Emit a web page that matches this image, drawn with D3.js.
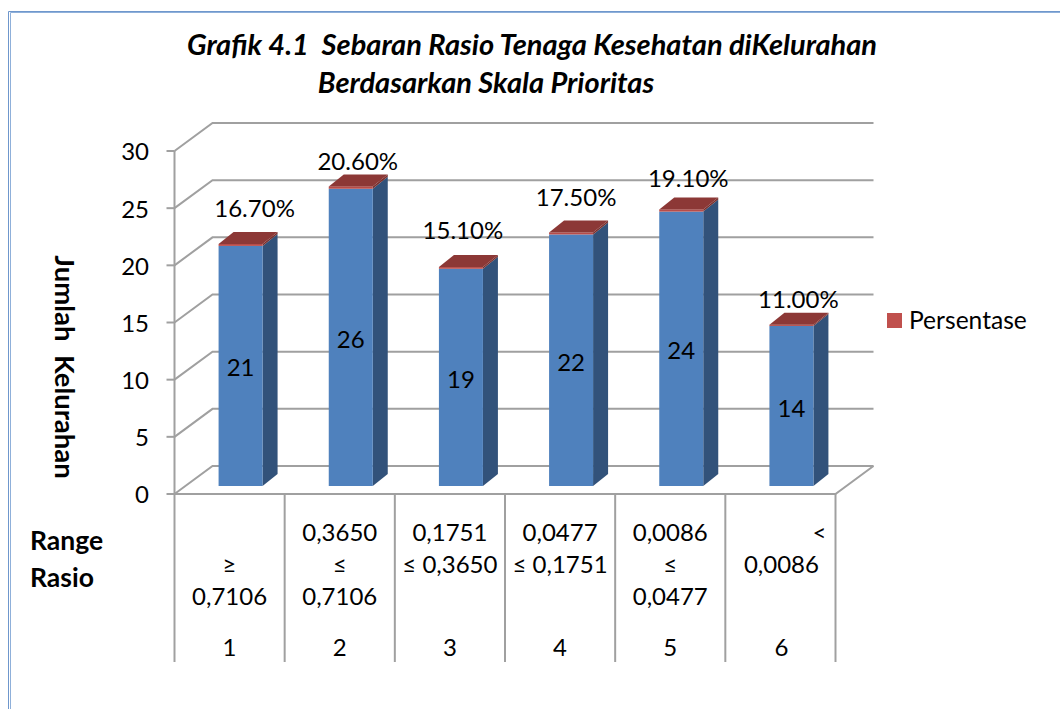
<!DOCTYPE html>
<html><head><meta charset="utf-8">
<script src="https://cdnjs.cloudflare.com/ajax/libs/d3/7.8.5/d3.min.js"></script>
<style>html,body{margin:0;padding:0;background:#fff}svg{display:block}text{font-family:Lato,Carlito,sans-serif;fill:#000}</style>
</head><body><div id="c"></div>
<script>
const categories = ["1","2","3","4","5","6"];
const rangeLabels = [
  ["", "≥", "0,7106"],
  ["0,3650", "≤", "0,7106"],
  ["0,1751", "≤ 0,3650", ""],
  ["0,0477", "≤ 0,1751", ""],
  ["0,0086", "≤", "0,0477"],
  ["<", "0,0086", ""]
];
const jumlah = [21, 26, 19, 22, 24, 14];
const persentase = [0.167, 0.206, 0.151, 0.175, 0.191, 0.11];
const yTicks = [0, 5, 10, 15, 20, 25, 30];
const titleLines = ["Grafik 4.1  Sebaran Rasio Tenaga Kesehatan diKelurahan", "Berdasarkan Skala Prioritas"];
const legendLabel = "Persentase";
const yTitle = "Jumlah  Kelurahan";
const xTitle = ["Range", "Rasio"];

const W = 1060, H = 709, FS = 24;
const svg = d3.select("#c").append("svg").attr("width", W).attr("height", H);

// page frame
svg.append("path").attr("d", "M8.5 709V11.5H1060").attr("fill","none").attr("stroke","#6f97cc").attr("stroke-width",1);
svg.append("path").attr("d", "M10.5 709V12.5H1060").attr("fill","none").attr("stroke","#8fb0da").attr("stroke-width",1);

const plotL = 174.5, plotR = 835.5, y0 = 494, y30 = 151, dx3 = 38, dy3 = 28;
const x = d3.scaleBand().domain(categories).range([plotL, plotR]);
const y = d3.scaleLinear().domain([0, 30]).range([y0, y30]);
const barDx = 15, barDy = 12, barW = 44, wallShift = 11, barBase = y0 - 8;
const grid = "#a0a0a0";

// walls
const g = svg.append("g").attr("fill","none").attr("stroke",grid).attr("stroke-width",2);
yTicks.forEach(t => {
  const yy = y(t);
  g.append("path").attr("d", `M${plotL} ${yy}L${plotL+dx3} ${yy-dy3}H${plotR+dx3}`);
  g.append("path").attr("d", `M${plotL-8} ${yy}H${plotL}`);
});
g.append("path").attr("d", `M${plotL} ${y30}V${y0}`);
g.append("path").attr("d", `M${plotL} ${y0}H${plotR}L${plotR+dx3} ${y0-dy3}`);
// category table rules
categories.concat("end").forEach((c,i) => {
  const xx = plotL + i * x.step();
  g.append("path").attr("d", `M${xx} ${y0}V662`);
});

const unit = y(0) - y(1);
const barX = c => x(c) + x.bandwidth()/2 + wallShift - barW/2;
const nudge = [[14,-35],[7,-25],[2,-36],[5,-35],[7,-31],[7,-25]];
categories.forEach((c,i) => {
  const bx = barX(c), topB = barBase - jumlah[i]*unit, topR = topB - persentase[i]*unit;
  svg.append("path").attr("d", `M${bx+barW} ${barBase}V${topB}l${barDx} ${-barDy}V${barBase-barDy}Z`).attr("fill","#32527a");
  svg.append("path").attr("d", `M${bx+barW} ${topB}V${topR}l${barDx} ${-barDy}v${topB-topR}Z`).attr("fill","#7a302e");
  svg.append("rect").attr("x",bx).attr("y",topB).attr("width",barW).attr("height",barBase-topB).attr("fill","#4f81bd");
  svg.append("rect").attr("x",bx).attr("y",topR).attr("width",barW).attr("height",topB-topR).attr("fill","#b84c49");
  svg.append("path").attr("d", `M${bx} ${topR}h${barW}l${barDx} ${-barDy}h${-barW}Z`).attr("fill","#8c3836");
  svg.append("text").attr("x",bx+barW/2).attr("y",(topR+barBase)/2+3).attr("dy","0.35em")
    .attr("text-anchor","middle").attr("font-size",FS).text(jumlah[i]);
  svg.append("text").attr("x",bx+barW/2+nudge[i][0]).attr("y",topR+nudge[i][1]).attr("dy","0.35em")
    .attr("text-anchor","middle").attr("font-size",FS).text(d3.format(".2%")(persentase[i]));
});

// y tick labels
yTicks.forEach(t => svg.append("text").attr("x",149).attr("y",y(t)+1).attr("dy","0.35em")
  .attr("text-anchor","end").attr("font-size",FS).text(t));

// category labels
const rowY = [533, 565, 597];
categories.forEach((c,i) => {
  const cx = x(c) + x.bandwidth()/2 + (i === 5 ? 1 : 0);
  rangeLabels[i].forEach((s,j) => {
    if(!s) return;
    svg.append("text").attr("x", s === "<" ? cx+38 : cx).attr("y",rowY[j]).attr("dy","0.35em")
      .attr("text-anchor","middle").attr("font-size",FS).text(s);
  });
  svg.append("text").attr("x",cx).attr("y",648).attr("dy","0.35em")
    .attr("text-anchor","middle").attr("font-size",FS).text(c);
});

// titles
titleLines.forEach((t,i) => svg.append("text").attr("x", i? 486:532).attr("y", i?83:45).attr("dy","0.35em")
  .attr("text-anchor","middle").attr("font-size",29).attr("font-weight",700).attr("font-style","italic")
  .style("white-space","pre").text(t));
svg.append("text").attr("transform","translate(65,367) rotate(90)").attr("dy","0.35em")
  .attr("text-anchor","middle").attr("font-size",27.5).attr("font-weight",700)
  .style("white-space","pre").text(yTitle);
xTitle.forEach((t,i) => svg.append("text").attr("x",30).attr("y",541+i*37).attr("dy","0.35em")
  .attr("font-size",26.5).attr("font-weight",700).text(t));

// legend
svg.append("rect").attr("x",887).attr("y",313).attr("width",15).attr("height",15).attr("fill","#c0504d");
svg.append("text").attr("x",909).attr("y",320).attr("dy","0.35em").attr("font-size",24.6).text(legendLabel);
</script></body></html>
